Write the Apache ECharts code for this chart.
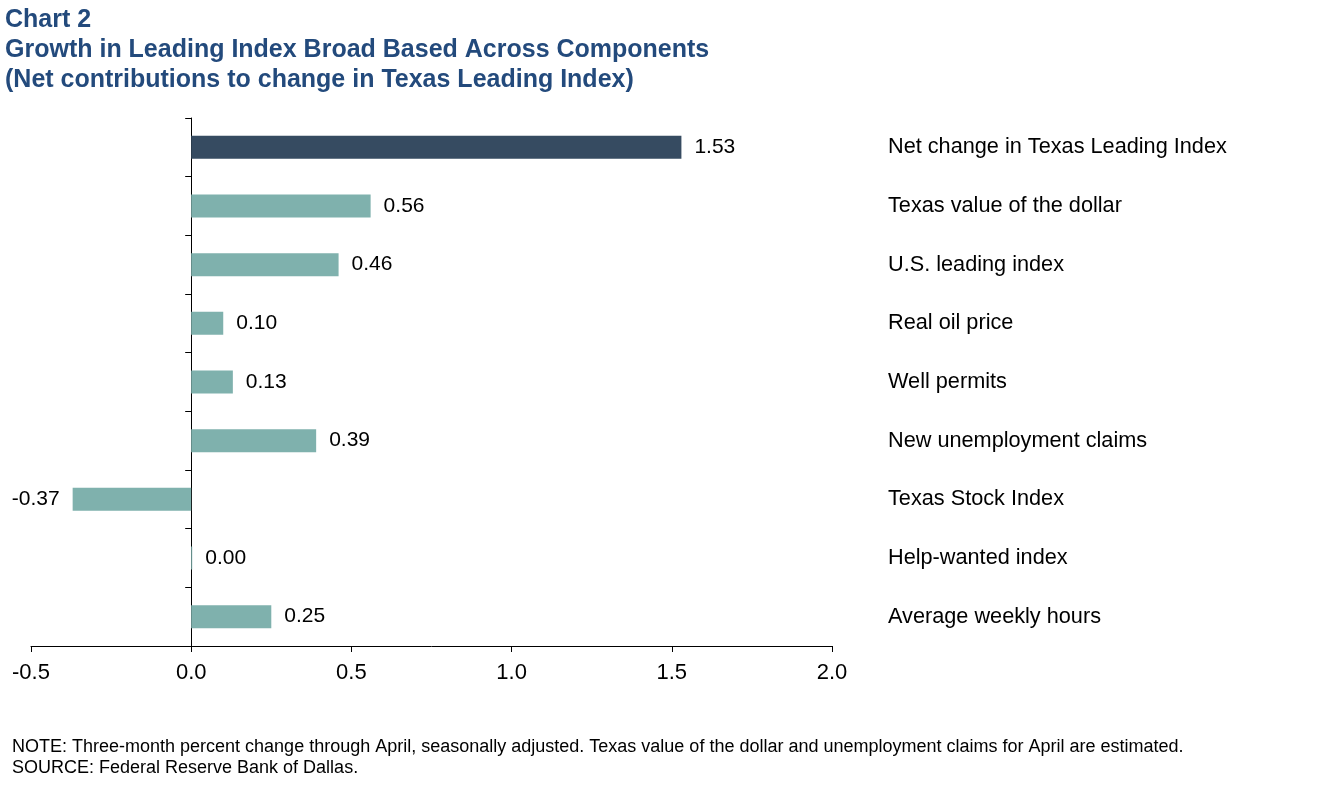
<!DOCTYPE html>
<html>
<head>
<meta charset="utf-8">
<title>Chart 2</title>
<script src="https://cdn.jsdelivr.net/npm/echarts@6/dist/echarts.min.js"></script>
<style>
  html, body { margin: 0; padding: 0; background: #fff; }
  #chart { width: 1344px; height: 793px; }
</style>
</head>
<body>
<div id="chart"></div>
<script>
// Texas Leading Index components chart

var categories = [
    'Net change in Texas Leading Index',
    'Texas value of the dollar',
    'U.S. leading index',
    'Real oil price',
    'Well permits',
    'New unemployment claims',
    'Texas Stock Index',
    'Help-wanted index',
    'Average weekly hours'
];
var contributions = [1.53, 0.56, 0.46, 0.10, 0.13, 0.39, -0.37, 0.00, 0.25];
var xTicks = [-0.5, 0.0, 0.5, 1.0, 1.5, 2.0];

var FONT = '"Liberation Sans", Arial, sans-serif';

var chart = echarts.init(document.getElementById('chart'));

// first bar (the net change) is dark, components are teal
var barData = contributions.map(function (v, i) {
    return {
        value: v,
        itemStyle: { color: i === 0 ? '#364B61' : '#7FB1AD' },
        label: { position: v < 0 ? 'left' : 'right' }
    };
});

var option = {
    backgroundColor: '#fff',
    animation: false,
    title: [
        {
            text: 'Chart 2\nGrowth in Leading Index Broad Based Across Components\n(Net contributions to change in Texas Leading Index)',
            left: 5,
            top: 5,
            padding: 0,
            textStyle: {
                fontFamily: FONT,
                fontSize: 25,
                fontWeight: 'bold',
                color: '#234A7C',
                lineHeight: 30
            }
        },
        {
            text: 'NOTE: Three-month percent change through April, seasonally adjusted. Texas value of the dollar and unemployment claims for April are estimated.\nSOURCE: Federal Reserve Bank of Dallas.',
            left: 12,
            top: 737,
            padding: 0,
            textStyle: {
                fontFamily: FONT,
                fontSize: 18,
                fontWeight: 'normal',
                color: '#000',
                lineHeight: 21
            }
        }
    ],
    grid: {
        left: 31,
        right: 512,
        top: 118,
        bottom: 147,
        containLabel: false
    },
    xAxis: {
        type: 'value',
        min: xTicks[0],
        max: xTicks[xTicks.length - 1],
        interval: 0.5,
        splitLine: { show: false },
        axisLine: { show: true, onZero: false, lineStyle: { color: '#000', width: 1 } },
        axisTick: { show: true, length: 6, lineStyle: { color: '#000' } },
        axisLabel: {
            margin: 16,
            fontFamily: FONT,
            fontSize: 22,
            color: '#000',
            formatter: function (v) { return v.toFixed(1); }
        }
    },
    yAxis: [
        {
            type: 'category',
            data: categories,
            inverse: true,
            axisLine: { show: true, onZero: true, lineStyle: { color: '#000', width: 1 } },
            axisTick: { show: true, length: 6, inside: false, lineStyle: { color: '#000' } },
            axisLabel: { show: false },
            splitLine: { show: false }
        },
        {
            type: 'category',
            data: categories,
            inverse: true,
            position: 'right',
            axisLine: { show: false },
            axisTick: { show: false },
            axisLabel: {
                show: true,
                align: 'left',
                margin: 56,
                padding: [6, 0, 0, 0],
                fontFamily: FONT,
                fontSize: 21.7,
                color: '#000'
            },
            splitLine: { show: false }
        }
    ],
    series: [
        {
            name: 'Contribution',
            type: 'bar',
            yAxisIndex: 0,
            barWidth: 23,
            barMinHeight: 1,
            data: barData,
            label: {
                show: true,
                distance: 13,
                padding: [5, 0, 0, 0],
                fontFamily: FONT,
                fontSize: 21,
                color: '#000',
                formatter: function (p) { return p.value.toFixed(2); }
            }
        }
    ]
};

chart.setOption(option);
</script>
</body>
</html>
